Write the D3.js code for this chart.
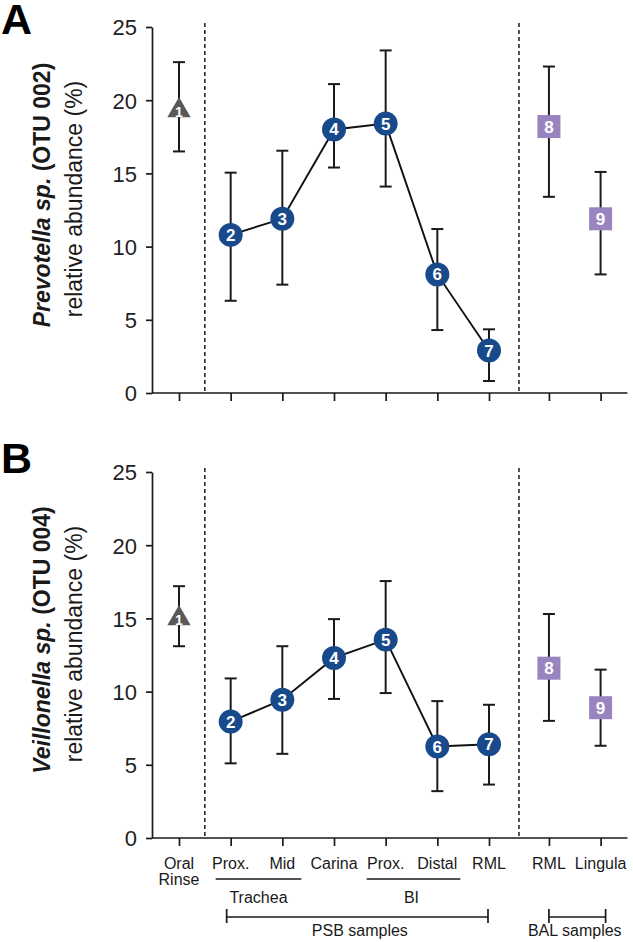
<!DOCTYPE html>
<html><head><meta charset="utf-8">
<script src="https://cdn.jsdelivr.net/npm/d3@7"></script>
<style>
html,body{margin:0;padding:0;background:#fff;}
svg{display:block;font-family:"Liberation Sans",Arial,Helvetica,sans-serif;}
</style></head>
<body>
<svg id="chart" width="633" height="942"></svg>
<script>
// ---- data ----
const categories = ["Oral Rinse","Prox.","Mid","Carina","Prox.","Distal","RML","RML","Lingula"];
const markerIds = [1,2,3,4,5,6,7,8,9];
const markerKinds = ["triangle","circle","circle","circle","circle","circle","circle","square","square"];
const yTicks = [0,5,10,15,20,25];

const prevotellaMean = [19.3, 10.8, 11.9, 18.0, 18.4, 8.1, 2.9, 18.2, 11.9];
const prevotellaHigh = [22.6, 15.05, 16.55, 21.1, 23.4, 11.2, 4.35, 22.3, 15.1];
const prevotellaLow  = [16.5, 6.3, 7.4, 15.4, 14.1, 4.3, 0.82, 13.4, 8.1];

const veillonellaMean = [15.0, 7.95, 9.45, 12.3, 13.55, 6.25, 6.4, 11.6, 8.9];
const veillonellaHigh = [17.2, 10.9, 13.1, 14.95, 17.55, 9.35, 9.1, 15.3, 11.5];
const veillonellaLow  = [13.1, 5.1, 5.75, 9.5, 9.9, 3.2, 3.65, 8.0, 6.3];

// ---- layout ----
const svg = d3.select("#chart");
const colors = {triangle:"#595959", circle:"#18498a", square:"#9984bf"};
// group gap for the BAL samples
const pos = categories.map((c,i)=> i < 7 ? i : i + 0.16);
const x = d3.scaleLinear().domain([0,6]).range([179,489]);
const axisLeftX = 152;
const axisRightX = x(8.68);

function panel(top, mean, hi, lo, letter, letterY, italicName, otu) {
  const y = d3.scaleLinear().domain([0,25]).range([top+366, top]);
  const g = svg.append("g");

  // y axis
  const ya = g.append("g").attr("transform",`translate(${axisLeftX},0)`)
    .call(d3.axisLeft(y).tickValues(yTicks).tickSize(6).tickPadding(9).tickSizeOuter(0));
  ya.selectAll("path,line").attr("stroke","#1a1a1a").attr("stroke-width",1.7);
  ya.selectAll("text").attr("font-size",22).attr("fill","#222")
    .attr("font-family","'Liberation Sans',Arial,sans-serif").attr("dy","0.36em");

  // x axis
  const xa = g.append("g").attr("transform",`translate(0,${y(0)})`)
    .call(d3.axisBottom(x).tickValues(pos).tickFormat("").tickSize(8).tickSizeOuter(0));
  xa.select(".domain").remove();
  xa.selectAll("line").attr("stroke","#1a1a1a").attr("stroke-width",1.7);
  g.append("line").attr("x1",axisLeftX).attr("x2",axisRightX)
    .attr("y1",y(0)).attr("y2",y(0)).attr("stroke","#1a1a1a").attr("stroke-width",1.7);

  // dashed separators
  [(pos[0]+pos[1])/2, (pos[6]+pos[7])/2].forEach(v=>{
    g.append("line").attr("x1",x(v)).attr("x2",x(v))
      .attr("y1",top-4).attr("y2",y(0))
      .attr("stroke","#1a1a1a").attr("stroke-width",1.5).attr("stroke-dasharray","4,3");
  });

  // error bars
  const cap = 6;
  mean.forEach((m,i)=>{
    const cx = x(pos[i]);
    g.append("line").attr("x1",cx).attr("x2",cx).attr("y1",y(hi[i])).attr("y2",y(lo[i]))
      .attr("stroke","#1a1a1a").attr("stroke-width",2);
    [hi[i],lo[i]].forEach(v=>{
      g.append("line").attr("x1",cx-cap).attr("x2",cx+cap).attr("y1",y(v)).attr("y2",y(v))
        .attr("stroke","#1a1a1a").attr("stroke-width",2);
    });
  });

  // connecting line (PSB samples 2-7)
  const idx = d3.range(1,7);
  g.append("path").attr("fill","none").attr("stroke","#111").attr("stroke-width",1.9)
    .attr("d", d3.line().x(i=>x(pos[i])).y(i=>y(mean[i]))(idx));

  // markers
  mean.forEach((m,i)=>{
    const cx = x(pos[i]), cy = y(m), k = markerKinds[i];
    if (k==="circle") {
      g.append("circle").attr("cx",cx).attr("cy",cy).attr("r",12).attr("fill",colors.circle);
    } else if (k==="square") {
      g.append("rect").attr("x",cx-11.5).attr("y",cy-11.5).attr("width",23).attr("height",23).attr("fill",colors.square);
    } else {
      g.append("path").attr("transform",`translate(${cx},${cy})`)
        .attr("d", d3.symbol().type(d3.symbolTriangle).size(235)()).attr("fill",colors.triangle);
    }
    g.append("text").attr("x",cx).attr("y", k==="triangle" ? cy+6.5 : cy+6)
      .attr("text-anchor","middle").attr("fill","#fff").attr("font-weight","bold")
      .attr("font-size", k==="triangle" ? 14 : 17).text(markerIds[i]);
  });

  // panel letter
  svg.append("text").attr("x",1).attr("y",letterY).attr("font-size",43).attr("font-weight","bold")
    .attr("fill","#000").text(letter);

  // y title
  const cyT = top + 168;
  const t1 = svg.append("text").attr("transform",`translate(50,${cyT}) rotate(-90)`)
    .attr("text-anchor","middle").attr("font-size",23).attr("font-weight","bold").attr("fill","#1a1a1a");
  t1.append("tspan").attr("font-style","italic").text(italicName);
  t1.append("tspan").text(" " + otu);
  svg.append("text").attr("transform",`translate(82,${cyT+4}) rotate(-90)`)
    .attr("text-anchor","middle").attr("font-size",23).attr("fill","#1a1a1a")
    .text("relative abundance (%)");
  return y;
}

panel(27, prevotellaMean, prevotellaHigh, prevotellaLow, "A", 34, "Prevotella sp.", "(OTU 002)");
const yB = panel(472, veillonellaMean, veillonellaHigh, veillonellaLow, "B", 473, "Veillonella sp.", "(OTU 004)");

// x labels
const base = yB(0);
const lab = svg.append("g").attr("font-size",16).attr("fill","#1a1a1a").attr("text-anchor","middle");
categories.forEach((c,i)=>{
  const parts = c.split(" ");
  if (c === "Oral Rinse") {
    lab.append("text").attr("x",x(pos[i])).attr("y",base+31).text(parts[0]);
    lab.append("text").attr("x",x(pos[i])).attr("y",base+47).text(parts[1]);
  } else {
    lab.append("text").attr("x",x(pos[i])).attr("y",base+31).text(c);
  }
});

// group brackets
const stroke = "#1a1a1a";
function hline(x1,x2,yy){ svg.append("line").attr("x1",x1).attr("x2",x2).attr("y1",yy).attr("y2",yy).attr("stroke",stroke).attr("stroke-width",1.7); }
function vline(xx,y1,y2){ svg.append("line").attr("x1",xx).attr("x2",xx).attr("y1",y1).attr("y2",y2).attr("stroke",stroke).attr("stroke-width",1.7); }

hline(x(pos[1])-15, x(pos[2])+19, base+41);
lab.append("text").attr("x",(x(pos[1])+x(pos[2]))/2+2).attr("y",base+65).text("Trachea");
hline(x(pos[4])-19, x(pos[5])+23, base+41);
lab.append("text").attr("x",(x(pos[4])+x(pos[5]))/2).attr("y",base+65).text("BI");

const yb = base+79;
hline(x(pos[1])-4, x(pos[6])-1, yb); vline(x(pos[1])-4, yb-8, yb+6); vline(x(pos[6])-1, yb-8, yb+6);
lab.append("text").attr("x",(x(pos[1])+x(pos[6]))/2).attr("y",base+98).text("PSB samples");
hline(x(pos[7]), x(pos[8])+5, yb); vline(x(pos[7]), yb-8, yb+6); vline(x(pos[8])+5, yb-8, yb+6);
lab.append("text").attr("x",(x(pos[7])+x(pos[8]))/2).attr("y",base+98).text("BAL samples");
</script>
</body></html>
